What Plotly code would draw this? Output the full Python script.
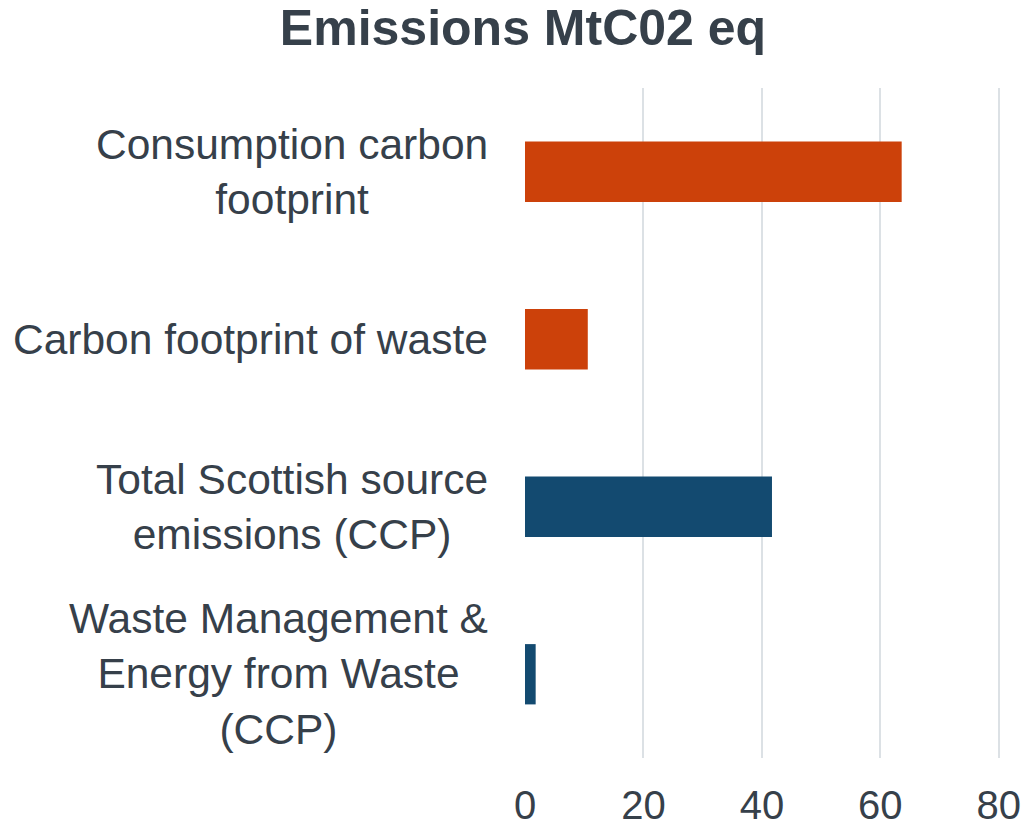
import plotly.graph_objects as go

categories = [
    "Consumption carbon<br>footprint",
    "Carbon footprint of waste",
    "Total Scottish source<br>emissions (CCP)",
    "Waste Management &<br>Energy from Waste<br>(CCP)",
]
values = [63.6, 10.6, 41.7, 1.8]
bar_colors = ["#CC410A", "#CC410A", "#134A70", "#134A70"]
x_ticks = [0, 20, 40, 60, 80]

TEXT = "#36404A"
FONT = "Liberation Sans, Arial, sans-serif"

fig = go.Figure()
fig.add_trace(go.Bar(
    y=list(range(len(categories))),
    x=values,
    orientation="h",
    marker=dict(color=bar_colors, line=dict(width=0)),
    width=0.36,
    hoverinfo="x",
))

W, H = 1027, 828
L, R, T, B = 525, 27, 88, 70
pw = W - L - R

for i, c in enumerate(categories):
    fig.add_annotation(
        x=-35 / pw, xref="paper", y=i, yref="y",
        text=c, showarrow=False, xanchor="right", yanchor="middle",
        align="center", font=dict(size=42.5, color=TEXT, family=FONT),
    )

fig.update_layout(
    width=W, height=H,
    margin=dict(l=L, r=R, t=T, b=B, autoexpand=False),
    paper_bgcolor="white", plot_bgcolor="white",
    showlegend=False,
    font=dict(family=FONT, color=TEXT),
    title=dict(
        text="<b>Emissions MtC02 eq</b>",
        x=523 / W, xanchor="center", xref="container",
        y=1 - 27 / H, yanchor="middle", yref="container",
        font=dict(size=50, color=TEXT, family=FONT),
    ),
    xaxis=dict(
        range=[0, 80.2], tickvals=x_ticks, ticktext=[str(t) for t in x_ticks],
        showgrid=True, gridcolor="#DCE1E5", gridwidth=2,
        zeroline=False, showline=False, ticks="", automargin=False,
        tickfont=dict(size=40, color=TEXT, family=FONT),
        ticklabelstandoff=20,
    ),
    yaxis=dict(
        range=[3.5, -0.5], showticklabels=False, showgrid=False,
        zeroline=False, showline=False, ticks="", automargin=False,
    ),
)

fig.write_html("out.html", config={"displayModeBar": False},
               post_script="document.body.style.margin='0px';")
